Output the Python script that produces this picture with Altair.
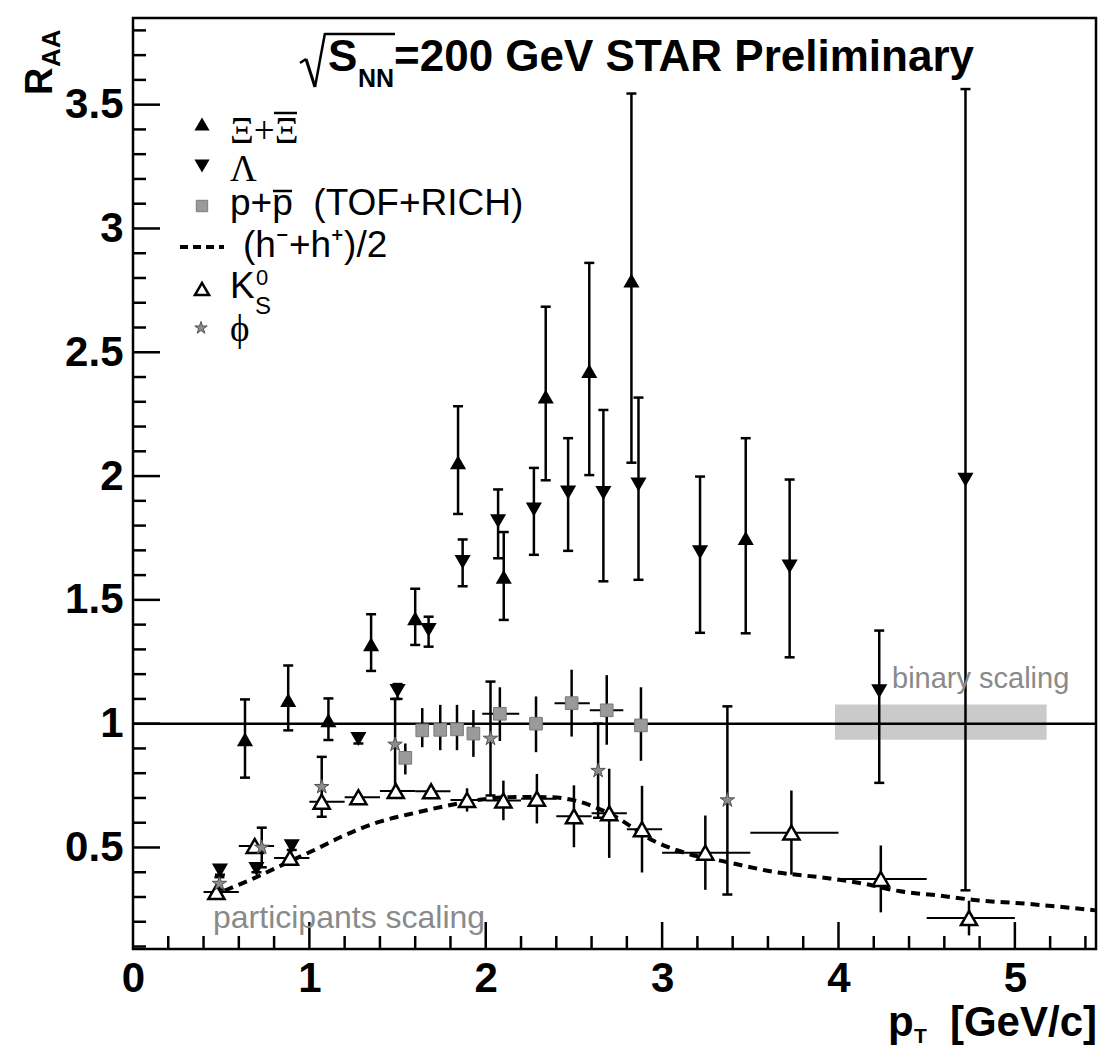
import altair as alt
import pandas as pd

# ---------------- data ----------------
# Xi + anti-Xi  (filled up-triangles)
xi_pt  = [0.635, 0.88, 1.108, 1.35, 1.60, 1.843, 2.102, 2.34, 2.587, 2.826, 3.474]
xi_raa = [0.937, 1.096, 1.014, 1.321, 1.426, 2.056, 1.593, 2.321, 2.424, 2.79, 1.750]
xi_lo  = [0.782, 0.973, 0.934, 1.213, 1.318, 1.847, 1.419, 1.983, 2.004, 2.054, 1.365]
xi_hi  = [1.098, 1.235, 1.102, 1.442, 1.545, 2.282, 1.774, 2.684, 2.861, 3.545, 2.153]

# Lambda (filled down-triangles)
lam_pt  = [0.493, 0.70, 0.90, 1.278, 1.50, 1.676, 1.869, 2.07, 2.273, 2.467, 2.667, 2.866, 3.215, 3.723, 4.231, 4.72]
lam_raa = [0.407, 0.413, 0.505, 0.938, 1.132, 1.378, 1.653, 1.818, 1.865, 1.934, 1.932, 1.966, 1.692, 1.635, 1.131, 1.985]
lam_lo  = [0.39, 0.40, 0.49, 0.92, 1.10, 1.311, 1.555, 1.668, 1.682, 1.698, 1.575, 1.581, 1.367, 1.268, 0.761, 0.327]
lam_hi  = [0.425, 0.43, 0.52, 0.955, 1.16, 1.432, 1.744, 1.946, 2.033, 2.153, 2.267, 2.317, 1.998, 1.986, 1.376, 3.563]

# p + pbar (TOF+RICH)  (grey squares)
pp_pt  = [1.544, 1.64, 1.742, 1.837, 1.93, 2.08, 2.285, 2.487, 2.686, 2.88]
pp_raa = [0.862, 0.973, 0.975, 0.977, 0.96, 1.04, 1.0, 1.083, 1.054, 0.993]
pp_lo  = [0.795, 0.905, 0.893, 0.893, 0.866, 0.93, 0.885, 0.948, 0.915, 0.85]
pp_hi  = [0.92, 1.063, 1.076, 1.076, 1.055, 1.147, 1.11, 1.218, 1.196, 1.147]
pp_bin_pt  = [2.08, 2.487, 2.686]
pp_bin_raa = [1.04, 1.083, 1.054]
pp_bin_lo  = [1.98, 2.39, 2.59]
pp_bin_hi  = [2.19, 2.59, 2.78]

# K0s (open up-triangles)
k0_pt  = [0.473, 0.69, 0.89, 1.07, 1.278, 1.49, 1.69, 1.894, 2.10, 2.29, 2.50, 2.70, 2.886, 3.245, 3.733, 4.24, 4.74]
k0_raa = [0.32, 0.506, 0.458, 0.685, 0.703, 0.728, 0.727, 0.692, 0.69, 0.697, 0.626, 0.638, 0.574, 0.479, 0.56, 0.373, 0.215]
k0_lo  = [0.30, 0.486, 0.438, 0.655, 0.683, 0.708, 0.707, 0.645, 0.61, 0.597, 0.501, 0.458, 0.399, 0.329, 0.39, 0.238, 0.145]
k0_hi  = [0.34, 0.526, 0.478, 0.715, 0.723, 0.748, 0.747, 0.739, 0.77, 0.797, 0.751, 0.818, 0.749, 0.629, 0.73, 0.508, 0.285]
k0_xlo = [0.4, 0.6, 0.8, 1.0, 1.2, 1.4, 1.6, 1.8, 2.0, 2.2, 2.4, 2.6, 2.8, 3.0, 3.5, 4.0, 4.5]
k0_xhi = [0.6, 0.8, 1.0, 1.2, 1.4, 1.6, 1.8, 2.0, 2.2, 2.4, 2.6, 2.8, 3.0, 3.5, 4.0, 4.5, 5.0]

# phi (grey stars)
phi_pt  = [0.49, 0.73, 1.07, 1.486, 2.027, 2.637, 3.37]
phi_raa = [0.354, 0.50, 0.745, 0.916, 0.94, 0.81, 0.691]
phi_lo  = [0.33, 0.42, 0.624, 0.724, 0.71, 0.62, 0.31]
phi_hi  = [0.38, 0.58, 0.866, 1.10, 1.17, 1.0, 1.07]

# (h- + h+)/2  dashed curve
h_pt  = [0.52, 0.69, 0.865, 1.034, 1.205, 1.39, 1.60, 1.77, 1.94, 2.19, 2.36, 2.53, 2.72, 2.96, 3.15, 3.35, 3.63, 3.95, 4.15, 4.35, 4.57, 4.77, 5.06, 5.46]
h_raa = [0.326, 0.377, 0.436, 0.492, 0.551, 0.602, 0.640, 0.667, 0.690, 0.704, 0.703, 0.685, 0.630, 0.524, 0.474, 0.444, 0.402, 0.375, 0.353, 0.323, 0.306, 0.288, 0.273, 0.246]

binary_level = [1.0]
norm_box_pt  = [3.98, 5.18]
norm_box_raa = [0.935, 1.077]

x_labels = [0, 1, 2, 3, 4, 5]
x_major = [1, 2, 3, 4, 5]
x_minor = [0.2, 0.4, 0.6, 0.8, 1.2, 1.4, 1.6, 1.8, 2.2, 2.4, 2.6, 2.8, 3.2, 3.4, 3.6, 3.8,
           4.2, 4.4, 4.6, 4.8, 5.2, 5.4]
y_major = [0.5, 1.0, 1.5, 2.0, 2.5, 3.0, 3.5]
y_minor = [0.1, 0.2, 0.3, 0.4, 0.6, 0.7, 0.8, 0.9, 1.1, 1.2, 1.3, 1.4, 1.6, 1.7, 1.8, 1.9,
           2.1, 2.2, 2.3, 2.4, 2.6, 2.7, 2.8, 2.9, 3.1, 3.2, 3.3, 3.4, 3.6, 3.7, 3.8]

# ---------------- layout ----------------
W, H = 963, 931
L, T = 133, 18
FONT = "Liberation Sans"
SERIF = "Liberation Serif"
STAR = "M0,-1L0.2245,-0.309L0.951,-0.309L0.363,0.118L0.588,0.809L0,0.382L-0.588,0.809L-0.363,0.118L-0.951,-0.309L-0.2245,-0.309Z"

xs = alt.Scale(domain=[0, 5.46], nice=False, zero=False)
ys = alt.Scale(domain=[0.09, 3.85], nice=False, zero=False)
xaxis = alt.Axis(values=x_labels, format="~g", title=None, grid=False, ticks=False, domain=False,
                 labelFont=FONT, labelFontSize=42, labelFontWeight="bold", labelColor="black",
                 labelPadding=9, labelFlush=False, labelOverlap=False)
yaxis = alt.Axis(values=y_major, format="~g", title=None, grid=False, ticks=False, domain=False,
                 labelFont=FONT, labelFontSize=42, labelFontWeight="bold", labelColor="black",
                 labelPadding=10, labelFlush=False, labelOverlap=False)


def ex(f):
    return alt.X(f, type="quantitative", scale=xs, axis=xaxis)


def ey(f):
    return alt.Y(f, type="quantitative", scale=ys, axis=yaxis)


dummy = pd.DataFrame({"d": [0]})
layers = []

# normalisation box and binary scaling line
box_df = pd.DataFrame({"x0": [norm_box_pt[0]], "x1": [norm_box_pt[1]],
                       "y0": [norm_box_raa[0]], "y1": [norm_box_raa[1]]})
layers.append(alt.Chart(box_df).mark_rect(color="#c4c4c4", opacity=0.9).encode(
    x=ex("x0"), x2="x1", y=ey("y0"), y2="y1"))
layers.append(alt.Chart(pd.DataFrame({"y": binary_level})).mark_rule(color="black", strokeWidth=2.5).encode(
    y=ey("y"), x=alt.value(0), x2=alt.value(W)))

# dashed charged hadron curve
h_df = pd.DataFrame({"pt": h_pt, "raa": h_raa})
layers.append(alt.Chart(h_df).mark_line(color="black", strokeWidth=4, strokeDash=[9, 6],
                                        interpolate="monotone").encode(x=ex("pt"), y=ey("raa")))

xi_df = pd.DataFrame({"pt": xi_pt, "raa": xi_raa, "lo": xi_lo, "hi": xi_hi})
lam_df = pd.DataFrame({"pt": lam_pt, "raa": lam_raa, "lo": lam_lo, "hi": lam_hi})
pp_df = pd.DataFrame({"pt": pp_pt, "raa": pp_raa, "lo": pp_lo, "hi": pp_hi})
ppb_df = pd.DataFrame({"raa": pp_bin_raa, "xlo": pp_bin_lo, "xhi": pp_bin_hi})
k0_df = pd.DataFrame({"pt": k0_pt, "raa": k0_raa, "lo": k0_lo, "hi": k0_hi, "xlo": k0_xlo, "xhi": k0_xhi})
phi_df = pd.DataFrame({"pt": phi_pt, "raa": phi_raa, "lo": phi_lo, "hi": phi_hi})

# error bars
for df in [xi_df, lam_df, pp_df, k0_df, phi_df]:
    layers.append(alt.Chart(df).mark_rule(color="black", strokeWidth=2.5).encode(
        x=ex("pt"), y=ey("lo"), y2="hi"))
for df in [xi_df, lam_df, phi_df]:
    for f in ["lo", "hi"]:
        layers.append(alt.Chart(df).mark_tick(orient="horizontal", size=10, thickness=2.5,
                                              color="black", opacity=1).encode(x=ex("pt"), y=ey(f)))
layers.append(alt.Chart(k0_df).mark_rule(color="black", strokeWidth=2).encode(
    x=ex("xlo"), x2="xhi", y=ey("raa")))
layers.append(alt.Chart(ppb_df).mark_rule(color="black", strokeWidth=2).encode(
    x=ex("xlo"), x2="xhi", y=ey("raa")))

# markers
layers.append(alt.Chart(pp_df).mark_point(shape="square", size=160, filled=True, fill="#9a9a9a",
                                          stroke="#7a7a7a", strokeWidth=1, opacity=1).encode(
    x=ex("pt"), y=ey("raa")))
layers.append(alt.Chart(k0_df).mark_point(shape="triangle-up", size=260, filled=True, fill="white",
                                          stroke="black", strokeWidth=2.5, opacity=1).encode(
    x=ex("pt"), y=ey("raa")))
layers.append(alt.Chart(phi_df).mark_point(shape=STAR, size=230, filled=True, fill="#8c8c8c",
                                           stroke="#505050", strokeWidth=1, opacity=1).encode(
    x=ex("pt"), y=ey("raa")))
layers.append(alt.Chart(lam_df).mark_point(shape="triangle-down", size=260, filled=True,
                                           color="black", opacity=1).encode(x=ex("pt"), y=ey("raa")))
layers.append(alt.Chart(xi_df).mark_point(shape="triangle-up", size=260, filled=True,
                                          color="black", opacity=1).encode(x=ex("pt"), y=ey("raa")))

# tick marks pointing into the frame
layers.append(alt.Chart(pd.DataFrame({"v": y_major})).mark_rule(color="black", strokeWidth=2.5).encode(
    y=ey("v"), x=alt.value(0), x2=alt.value(27)))
layers.append(alt.Chart(pd.DataFrame({"v": y_minor})).mark_rule(color="black", strokeWidth=2.5).encode(
    y=ey("v"), x=alt.value(0), x2=alt.value(13)))
layers.append(alt.Chart(pd.DataFrame({"v": x_major})).mark_rule(color="black", strokeWidth=2.5).encode(
    x=ex("v"), y=alt.value(H), y2=alt.value(H - 27)))
layers.append(alt.Chart(pd.DataFrame({"v": x_minor})).mark_rule(color="black", strokeWidth=2.5).encode(
    x=ex("v"), y=alt.value(H), y2=alt.value(H - 13)))


# ---------------- annotations ----------------
def txt(s, x, y, size, font=FONT, weight="normal", color="black", align="left",
        baseline="alphabetic", angle=0):
    return alt.Chart(pd.DataFrame({"t": [s]})).mark_text(
        font=font, fontSize=size, fontWeight=weight, color=color, align=align,
        baseline=baseline, angle=angle).encode(text="t:N", x=alt.value(x - L), y=alt.value(y - T))


def seg(x0, y0, x1, y1, width=2.5, dash=None):
    kw = dict(color="black", strokeWidth=width)
    if dash:
        kw["strokeDash"] = dash
    return alt.Chart(dummy).mark_rule(**kw).encode(
        x=alt.value(x0 - L), y=alt.value(y0 - T), x2=alt.value(x1 - L), y2=alt.value(y1 - T))


def lmark(shape, x, y, size, **kw):
    return alt.Chart(dummy).mark_point(shape=shape, size=size, opacity=1, **kw).encode(
        x=alt.value(x - L), y=alt.value(y - T))


# title  sqrt(s_NN)=200 GeV STAR Preliminary
layers += [
    seg(300, 63, 306, 59, 2.5),
    seg(306, 59, 315, 87, 3),
    seg(315, 87, 325, 33, 2.5),
    seg(325, 34, 395, 34, 2.5),
    txt("S", 328, 71, 44, weight="bold"),
    txt("NN", 358, 87, 25, weight="bold"),
    txt("=200 GeV STAR Preliminary", 394, 71, 44, weight="bold"),
]

# axis titles
layers += [
    txt("R", 52, 95, 38, weight="bold", angle=270),
    txt("AA", 60, 67, 26, weight="bold", angle=270),
    txt("p", 888, 1036, 42, weight="bold"),
    txt("T", 914, 1043, 21, weight="bold"),
    txt("[GeV/c]", 1097, 1036, 42, weight="bold", align="right"),
]

# legend
layers += [
    lmark("triangle-up", 202, 124, 230, filled=True, color="black"),
    txt("Ξ+Ξ", 230, 143, 37, font=SERIF),
    seg(274, 113, 297, 113, 2.5),
    lmark("triangle-down", 202, 166, 230, filled=True, color="black"),
    txt("Λ", 230, 181, 37, font=SERIF),
    lmark("square", 202, 206, 130, filled=True, fill="#9a9a9a", stroke="#7a7a7a", strokeWidth=1),
    txt("p+p\u00a0\u00a0(TOF+RICH)", 230, 215, 37),
    seg(273, 191, 292, 191, 2.5),
    seg(180, 247, 224, 247, 4, dash=[8, 5]),
    txt("(h⁻+h⁺)/2", 243, 257, 37),
    lmark("triangle-up", 202, 289, 200, filled=True, fill="white", stroke="black", strokeWidth=2.5),
    txt("K", 230, 298, 37),
    txt("0", 256, 285, 22),
    txt("S", 255, 314, 24),
    lmark(STAR, 201, 328, 170, filled=True, fill="#8c8c8c", stroke="#505050", strokeWidth=1),
    txt("ϕ", 230, 341, 37, font=SERIF),
]

# scaling labels
layers += [
    txt("binary scaling", 892, 688, 29, color="#8a8a8a"),
    txt("participants scaling", 213, 928, 32, color="#8a8a8a"),
]

chart = alt.layer(*layers).properties(
    width=W, height=H,
    padding={"left": L, "top": T, "right": 1100 - L - W, "bottom": 1049 - T - H},
    autosize=alt.AutoSizeParams(type="none"),
    background="white",
).configure_view(stroke="black", strokeWidth=2.5)

chart.save("out.html", embed_options={"renderer": "svg", "actions": False})
